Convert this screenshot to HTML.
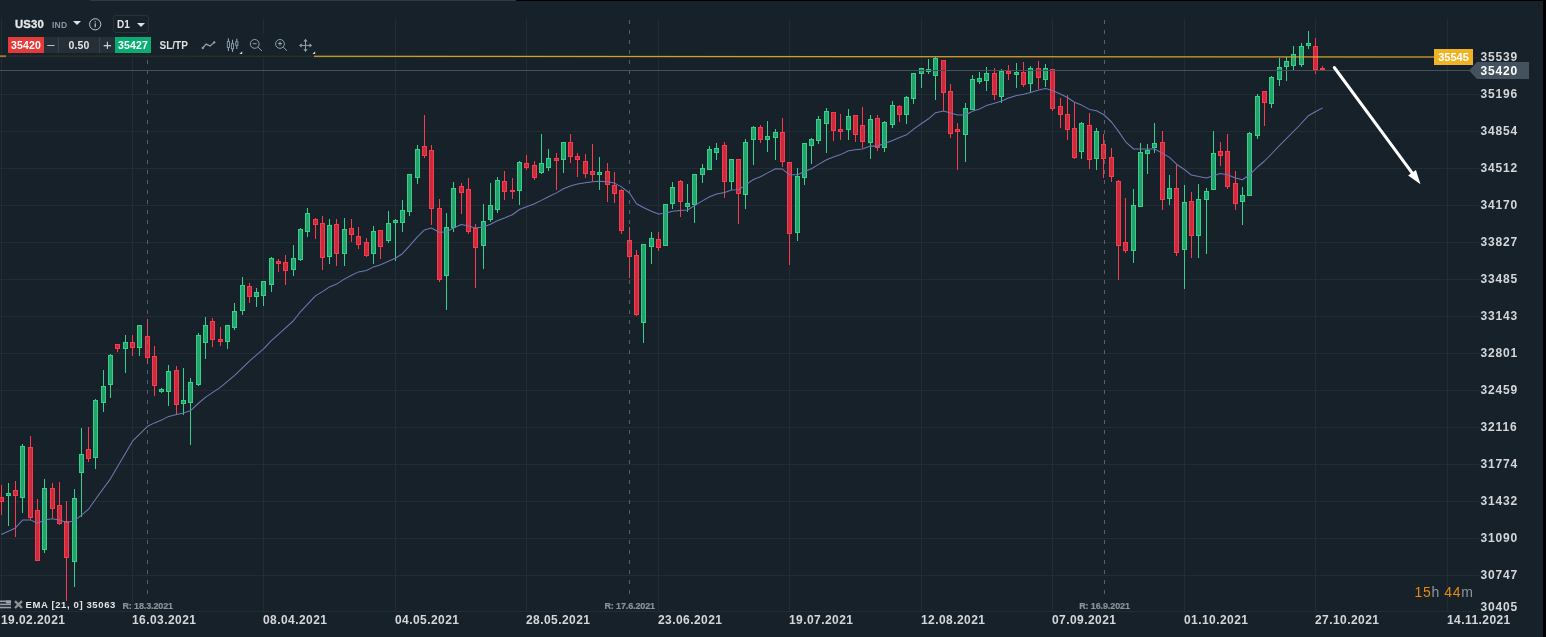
<!DOCTYPE html>
<html><head><meta charset="utf-8"><title>US30</title>
<style>
html,body{margin:0;padding:0;background:#17212a;}
body{width:1546px;height:637px;overflow:hidden;position:relative;font-family:"Liberation Sans",sans-serif;}
#chart{position:absolute;left:0;top:0;}
.pl{position:absolute;left:1480.5px;width:48px;height:14px;line-height:14px;font-size:12px;font-weight:bold;color:#d4d7da;letter-spacing:0.85px;}
.dl{position:absolute;top:613px;height:14px;line-height:14px;font-size:12px;font-weight:bold;color:#d4d7da;letter-spacing:0.43px;white-space:nowrap;}
.rl{position:absolute;top:601px;font-size:9px;line-height:11px;font-weight:bold;color:#8c9399;-webkit-text-stroke:0.2px #8c9399;white-space:nowrap;transform:translateX(-50%);letter-spacing:-0.12px;}
#topa{position:absolute;left:90px;top:0;width:426px;height:1px;background:#2e3b46;}
#topb{position:absolute;left:516px;top:0;width:1030px;height:1px;background:#000;}
#redge{position:absolute;left:1543px;top:0;width:3px;height:637px;background:#000;}
#ledge{position:absolute;left:1px;top:19px;width:1px;height:594px;background:#222c34;}
#ylab{position:absolute;left:1434px;top:49px;width:39px;height:15.5px;background:#f0b323;color:#fff;font-size:11px;font-weight:bold;line-height:16.5px;text-align:center;}
#plab{position:absolute;left:1469px;top:62px;width:60px;height:17px;}
#plab span{position:absolute;left:11.5px;top:1px;line-height:17px;font-size:12px;font-weight:bold;color:#fff;letter-spacing:0.85px;}
#timer{position:absolute;left:1414.5px;top:583.5px;font-size:14px;line-height:16px;color:#8d959c;letter-spacing:0.65px;white-space:nowrap;}
#timer b{font-weight:normal;color:#e58a0c;}
#tb{position:absolute;left:6px;top:34px;width:308px;height:24px;background:rgba(23,33,42,0.88);}
#tb1{position:absolute;left:6px;top:13px;width:146px;height:21px;background:rgba(23,33,42,0.88);}
#sym{position:absolute;left:14.5px;top:17px;font-size:11px;line-height:14px;font-weight:bold;color:#e6e8ea;letter-spacing:0.15px;-webkit-text-stroke:0.3px #e6e8ea;transform:scaleX(1.03);transform-origin:0 0;}
#ind{position:absolute;left:52px;top:19.6px;font-size:8.5px;line-height:10px;font-weight:bold;color:#8797a5;letter-spacing:0.2px;}
.tri{position:absolute;width:0;height:0;border-left:4px solid transparent;border-right:4px solid transparent;border-top:4.5px solid #dfe2e5;}
#d1{position:absolute;left:113px;top:15px;width:34px;height:16px;border:1px solid #27323b;border-radius:3px;}
#d1 span{position:absolute;left:3px;top:2.5px;font-size:10px;line-height:12px;font-weight:bold;color:#e6e8ea;}
.box{position:absolute;top:37px;height:16px;line-height:16px;text-align:center;font-weight:bold;font-size:10.5px;color:#fff;letter-spacing:0.2px;}
#ema{position:absolute;left:25.5px;top:599px;font-size:9.5px;line-height:12px;font-weight:bold;color:#e3e5e7;letter-spacing:0.62px;white-space:nowrap;}
#wrap{position:absolute;left:0;top:0;width:1546px;height:637px;will-change:transform;}
</style></head><body><div id="wrap">
<svg id="chart" width="1546" height="637" viewBox="0 0 1546 637">
<rect x="0" y="57" width="1479" height="1" fill="#222c34"/>
<rect x="0" y="94" width="1479" height="1" fill="#222c34"/>
<rect x="0" y="131" width="1479" height="1" fill="#222c34"/>
<rect x="0" y="168" width="1479" height="1" fill="#222c34"/>
<rect x="0" y="205" width="1479" height="1" fill="#222c34"/>
<rect x="0" y="242" width="1479" height="1" fill="#222c34"/>
<rect x="0" y="279" width="1479" height="1" fill="#222c34"/>
<rect x="0" y="316" width="1479" height="1" fill="#222c34"/>
<rect x="0" y="353" width="1479" height="1" fill="#222c34"/>
<rect x="0" y="390" width="1479" height="1" fill="#222c34"/>
<rect x="0" y="427" width="1479" height="1" fill="#222c34"/>
<rect x="0" y="464" width="1479" height="1" fill="#222c34"/>
<rect x="0" y="501" width="1479" height="1" fill="#222c34"/>
<rect x="0" y="538" width="1479" height="1" fill="#222c34"/>
<rect x="0" y="575" width="1479" height="1" fill="#222c34"/>
<rect x="0" y="611" width="1473" height="1" fill="#222c34"/>
<rect x="1" y="19" width="1" height="593" fill="#222c34"/>
<rect x="132" y="19" width="1" height="593" fill="#222c34"/>
<rect x="263" y="19" width="1" height="593" fill="#222c34"/>
<rect x="395" y="19" width="1" height="593" fill="#222c34"/>
<rect x="526" y="19" width="1" height="593" fill="#222c34"/>
<rect x="658" y="19" width="1" height="593" fill="#222c34"/>
<rect x="789" y="19" width="1" height="593" fill="#222c34"/>
<rect x="921" y="19" width="1" height="593" fill="#222c34"/>
<rect x="1052" y="19" width="1" height="593" fill="#222c34"/>
<rect x="1184" y="19" width="1" height="593" fill="#222c34"/>
<rect x="1315" y="19" width="1" height="593" fill="#222c34"/>
<rect x="1447" y="19" width="1" height="593" fill="#222c34"/>
<rect x="1.0" y="485" width="1" height="30" fill="#fb3a4d"/>
<rect x="-0.5" y="497.5" width="4" height="4" fill="#ca2b3d" stroke="#fb3a4d" stroke-width="1"/>
<rect x="8.0" y="483" width="1" height="43" fill="#2fd18b"/>
<rect x="6.5" y="493.5" width="4" height="2" fill="#25a26a" stroke="#2fd18b" stroke-width="1"/>
<rect x="15.0" y="481" width="1" height="56" fill="#fb3a4d"/>
<rect x="13.5" y="490.5" width="4" height="5" fill="#ca2b3d" stroke="#fb3a4d" stroke-width="1"/>
<rect x="22.0" y="444" width="1" height="69" fill="#2fd18b"/>
<rect x="20.5" y="446.5" width="4" height="51" fill="#25a26a" stroke="#2fd18b" stroke-width="1"/>
<rect x="30.0" y="436" width="1" height="84" fill="#fb3a4d"/>
<rect x="28.5" y="447.5" width="4" height="70" fill="#ca2b3d" stroke="#fb3a4d" stroke-width="1"/>
<rect x="37.0" y="499" width="1" height="62" fill="#fb3a4d"/>
<rect x="35.5" y="510.5" width="4" height="50" fill="#ca2b3d" stroke="#fb3a4d" stroke-width="1"/>
<rect x="44.0" y="479" width="1" height="74" fill="#2fd18b"/>
<rect x="42.5" y="488.5" width="4" height="61" fill="#25a26a" stroke="#2fd18b" stroke-width="1"/>
<rect x="52.0" y="483" width="1" height="35" fill="#fb3a4d"/>
<rect x="50.5" y="488.5" width="4" height="20" fill="#ca2b3d" stroke="#fb3a4d" stroke-width="1"/>
<rect x="59.0" y="482" width="1" height="43" fill="#fb3a4d"/>
<rect x="57.5" y="505.5" width="4" height="18" fill="#ca2b3d" stroke="#fb3a4d" stroke-width="1"/>
<rect x="66.0" y="501" width="1" height="100" fill="#fb3a4d"/>
<rect x="64.5" y="521.5" width="4" height="36" fill="#ca2b3d" stroke="#fb3a4d" stroke-width="1"/>
<rect x="74.0" y="489" width="1" height="98" fill="#2fd18b"/>
<rect x="72.5" y="498.5" width="4" height="63" fill="#25a26a" stroke="#2fd18b" stroke-width="1"/>
<rect x="81.0" y="428" width="1" height="89" fill="#2fd18b"/>
<rect x="79.5" y="454.5" width="4" height="18" fill="#25a26a" stroke="#2fd18b" stroke-width="1"/>
<rect x="88.0" y="427" width="1" height="35" fill="#fb3a4d"/>
<rect x="86.5" y="449.5" width="4" height="9" fill="#ca2b3d" stroke="#fb3a4d" stroke-width="1"/>
<rect x="95.0" y="399" width="1" height="70" fill="#2fd18b"/>
<rect x="93.5" y="400.5" width="4" height="57" fill="#25a26a" stroke="#2fd18b" stroke-width="1"/>
<rect x="103.0" y="370" width="1" height="42" fill="#2fd18b"/>
<rect x="101.5" y="386.5" width="4" height="16" fill="#25a26a" stroke="#2fd18b" stroke-width="1"/>
<rect x="110.0" y="354" width="1" height="44" fill="#2fd18b"/>
<rect x="108.5" y="355.5" width="4" height="29" fill="#25a26a" stroke="#2fd18b" stroke-width="1"/>
<rect x="117.0" y="344" width="1" height="8" fill="#fb3a4d"/>
<rect x="115.5" y="344.5" width="4" height="4" fill="#ca2b3d" stroke="#fb3a4d" stroke-width="1"/>
<rect x="125.0" y="335" width="1" height="38" fill="#2fd18b"/>
<rect x="123.5" y="342.5" width="4" height="6" fill="#25a26a" stroke="#2fd18b" stroke-width="1"/>
<rect x="132.0" y="335" width="1" height="21" fill="#fb3a4d"/>
<rect x="130.5" y="342.5" width="4" height="5" fill="#ca2b3d" stroke="#fb3a4d" stroke-width="1"/>
<rect x="139.0" y="325" width="1" height="31" fill="#2fd18b"/>
<rect x="137.5" y="325.5" width="4" height="22" fill="#25a26a" stroke="#2fd18b" stroke-width="1"/>
<rect x="147.0" y="319" width="1" height="45" fill="#fb3a4d"/>
<rect x="145.5" y="336.5" width="4" height="21" fill="#ca2b3d" stroke="#fb3a4d" stroke-width="1"/>
<rect x="154.0" y="346" width="1" height="50" fill="#fb3a4d"/>
<rect x="152.5" y="356.5" width="4" height="29" fill="#ca2b3d" stroke="#fb3a4d" stroke-width="1"/>
<rect x="161.0" y="388" width="1" height="5" fill="#2fd18b"/>
<rect x="159.5" y="389.5" width="4" height="2" fill="#25a26a" stroke="#2fd18b" stroke-width="1"/>
<rect x="168.0" y="365" width="1" height="41" fill="#2fd18b"/>
<rect x="166.5" y="371.5" width="4" height="20" fill="#25a26a" stroke="#2fd18b" stroke-width="1"/>
<rect x="176.0" y="366" width="1" height="48" fill="#fb3a4d"/>
<rect x="174.5" y="370.5" width="4" height="34" fill="#ca2b3d" stroke="#fb3a4d" stroke-width="1"/>
<rect x="183.0" y="368" width="1" height="47" fill="#2fd18b"/>
<rect x="181.5" y="400.5" width="4" height="3" fill="#25a26a" stroke="#2fd18b" stroke-width="1"/>
<rect x="190.0" y="378" width="1" height="67" fill="#2fd18b"/>
<rect x="188.5" y="382.5" width="4" height="20" fill="#25a26a" stroke="#2fd18b" stroke-width="1"/>
<rect x="198.0" y="333" width="1" height="53" fill="#2fd18b"/>
<rect x="196.5" y="335.5" width="4" height="49" fill="#25a26a" stroke="#2fd18b" stroke-width="1"/>
<rect x="205.0" y="317" width="1" height="42" fill="#2fd18b"/>
<rect x="203.5" y="325.5" width="4" height="17" fill="#25a26a" stroke="#2fd18b" stroke-width="1"/>
<rect x="212.0" y="318" width="1" height="29" fill="#fb3a4d"/>
<rect x="210.5" y="321.5" width="4" height="18" fill="#ca2b3d" stroke="#fb3a4d" stroke-width="1"/>
<rect x="220.0" y="327" width="1" height="19" fill="#fb3a4d"/>
<rect x="218.5" y="339.5" width="4" height="2" fill="#ca2b3d" stroke="#fb3a4d" stroke-width="1"/>
<rect x="227.0" y="325" width="1" height="24" fill="#2fd18b"/>
<rect x="225.5" y="325.5" width="4" height="16" fill="#25a26a" stroke="#2fd18b" stroke-width="1"/>
<rect x="234.0" y="303" width="1" height="27" fill="#2fd18b"/>
<rect x="232.5" y="311.5" width="4" height="16" fill="#25a26a" stroke="#2fd18b" stroke-width="1"/>
<rect x="242.0" y="277" width="1" height="38" fill="#2fd18b"/>
<rect x="240.5" y="285.5" width="4" height="25" fill="#25a26a" stroke="#2fd18b" stroke-width="1"/>
<rect x="249.0" y="283" width="1" height="20" fill="#fb3a4d"/>
<rect x="247.5" y="286.5" width="4" height="10" fill="#ca2b3d" stroke="#fb3a4d" stroke-width="1"/>
<rect x="256.0" y="288" width="1" height="19" fill="#2fd18b"/>
<rect x="254.5" y="292.5" width="4" height="4" fill="#25a26a" stroke="#2fd18b" stroke-width="1"/>
<rect x="263.0" y="281" width="1" height="25" fill="#2fd18b"/>
<rect x="261.5" y="281.5" width="4" height="14" fill="#25a26a" stroke="#2fd18b" stroke-width="1"/>
<rect x="271.0" y="257" width="1" height="35" fill="#2fd18b"/>
<rect x="269.5" y="258.5" width="4" height="26" fill="#25a26a" stroke="#2fd18b" stroke-width="1"/>
<rect x="278.0" y="259" width="1" height="13" fill="#fb3a4d"/>
<rect x="276.5" y="261.5" width="4" height="2" fill="#ca2b3d" stroke="#fb3a4d" stroke-width="1"/>
<rect x="285.0" y="255" width="1" height="30" fill="#fb3a4d"/>
<rect x="283.5" y="262.5" width="4" height="8" fill="#ca2b3d" stroke="#fb3a4d" stroke-width="1"/>
<rect x="293.0" y="245" width="1" height="31" fill="#2fd18b"/>
<rect x="291.5" y="258.5" width="4" height="11" fill="#25a26a" stroke="#2fd18b" stroke-width="1"/>
<rect x="300.0" y="228" width="1" height="33" fill="#2fd18b"/>
<rect x="298.5" y="229.5" width="4" height="30" fill="#25a26a" stroke="#2fd18b" stroke-width="1"/>
<rect x="307.0" y="208" width="1" height="29" fill="#2fd18b"/>
<rect x="305.5" y="213.5" width="4" height="18" fill="#25a26a" stroke="#2fd18b" stroke-width="1"/>
<rect x="315.0" y="218" width="1" height="21" fill="#fb3a4d"/>
<rect x="313.5" y="219.5" width="4" height="5" fill="#ca2b3d" stroke="#fb3a4d" stroke-width="1"/>
<rect x="322.0" y="216" width="1" height="54" fill="#fb3a4d"/>
<rect x="320.5" y="223.5" width="4" height="34" fill="#ca2b3d" stroke="#fb3a4d" stroke-width="1"/>
<rect x="329.0" y="219" width="1" height="45" fill="#2fd18b"/>
<rect x="327.5" y="225.5" width="4" height="31" fill="#25a26a" stroke="#2fd18b" stroke-width="1"/>
<rect x="336.0" y="219" width="1" height="47" fill="#fb3a4d"/>
<rect x="334.5" y="224.5" width="4" height="29" fill="#ca2b3d" stroke="#fb3a4d" stroke-width="1"/>
<rect x="344.0" y="218" width="1" height="48" fill="#2fd18b"/>
<rect x="342.5" y="229.5" width="4" height="24" fill="#25a26a" stroke="#2fd18b" stroke-width="1"/>
<rect x="351.0" y="219" width="1" height="23" fill="#fb3a4d"/>
<rect x="349.5" y="228.5" width="4" height="6" fill="#ca2b3d" stroke="#fb3a4d" stroke-width="1"/>
<rect x="358.0" y="227" width="1" height="22" fill="#fb3a4d"/>
<rect x="356.5" y="236.5" width="4" height="8" fill="#ca2b3d" stroke="#fb3a4d" stroke-width="1"/>
<rect x="366.0" y="238" width="1" height="19" fill="#fb3a4d"/>
<rect x="364.5" y="242.5" width="4" height="13" fill="#ca2b3d" stroke="#fb3a4d" stroke-width="1"/>
<rect x="373.0" y="226" width="1" height="38" fill="#2fd18b"/>
<rect x="371.5" y="231.5" width="4" height="22" fill="#25a26a" stroke="#2fd18b" stroke-width="1"/>
<rect x="380.0" y="230" width="1" height="29" fill="#fb3a4d"/>
<rect x="378.5" y="230.5" width="4" height="16" fill="#ca2b3d" stroke="#fb3a4d" stroke-width="1"/>
<rect x="388.0" y="211" width="1" height="32" fill="#2fd18b"/>
<rect x="386.5" y="223.5" width="4" height="17" fill="#25a26a" stroke="#2fd18b" stroke-width="1"/>
<rect x="395.0" y="219" width="1" height="42" fill="#2fd18b"/>
<rect x="393.5" y="220.5" width="4" height="2" fill="#25a26a" stroke="#2fd18b" stroke-width="1"/>
<rect x="402.0" y="200" width="1" height="32" fill="#2fd18b"/>
<rect x="400.5" y="210.5" width="4" height="12" fill="#25a26a" stroke="#2fd18b" stroke-width="1"/>
<rect x="409.0" y="174" width="1" height="42" fill="#2fd18b"/>
<rect x="407.5" y="174.5" width="4" height="37" fill="#25a26a" stroke="#2fd18b" stroke-width="1"/>
<rect x="417.0" y="145" width="1" height="39" fill="#2fd18b"/>
<rect x="415.5" y="149.5" width="4" height="28" fill="#25a26a" stroke="#2fd18b" stroke-width="1"/>
<rect x="424.0" y="115" width="1" height="43" fill="#fb3a4d"/>
<rect x="422.5" y="146.5" width="4" height="9" fill="#ca2b3d" stroke="#fb3a4d" stroke-width="1"/>
<rect x="431.0" y="145" width="1" height="80" fill="#fb3a4d"/>
<rect x="429.5" y="150.5" width="4" height="58" fill="#ca2b3d" stroke="#fb3a4d" stroke-width="1"/>
<rect x="439.0" y="199" width="1" height="83" fill="#fb3a4d"/>
<rect x="437.5" y="208.5" width="4" height="71" fill="#ca2b3d" stroke="#fb3a4d" stroke-width="1"/>
<rect x="446.0" y="213" width="1" height="97" fill="#2fd18b"/>
<rect x="444.5" y="227.5" width="4" height="48" fill="#25a26a" stroke="#2fd18b" stroke-width="1"/>
<rect x="453.0" y="182" width="1" height="50" fill="#2fd18b"/>
<rect x="451.5" y="188.5" width="4" height="39" fill="#25a26a" stroke="#2fd18b" stroke-width="1"/>
<rect x="461.0" y="183" width="1" height="31" fill="#fb3a4d"/>
<rect x="459.5" y="186.5" width="4" height="6" fill="#ca2b3d" stroke="#fb3a4d" stroke-width="1"/>
<rect x="468.0" y="178" width="1" height="56" fill="#fb3a4d"/>
<rect x="466.5" y="189.5" width="4" height="42" fill="#ca2b3d" stroke="#fb3a4d" stroke-width="1"/>
<rect x="475.0" y="224" width="1" height="64" fill="#fb3a4d"/>
<rect x="473.5" y="228.5" width="4" height="19" fill="#ca2b3d" stroke="#fb3a4d" stroke-width="1"/>
<rect x="483.0" y="204" width="1" height="65" fill="#2fd18b"/>
<rect x="481.5" y="221.5" width="4" height="24" fill="#25a26a" stroke="#2fd18b" stroke-width="1"/>
<rect x="490.0" y="183" width="1" height="39" fill="#2fd18b"/>
<rect x="488.5" y="205.5" width="4" height="14" fill="#25a26a" stroke="#2fd18b" stroke-width="1"/>
<rect x="497.0" y="177" width="1" height="36" fill="#2fd18b"/>
<rect x="495.5" y="180.5" width="4" height="29" fill="#25a26a" stroke="#2fd18b" stroke-width="1"/>
<rect x="504.0" y="171" width="1" height="29" fill="#fb3a4d"/>
<rect x="502.5" y="181.5" width="4" height="10" fill="#ca2b3d" stroke="#fb3a4d" stroke-width="1"/>
<rect x="512.0" y="178" width="1" height="21" fill="#fb3a4d"/>
<rect x="510.5" y="190.5" width="4" height="1" fill="#ca2b3d" stroke="#fb3a4d" stroke-width="1"/>
<rect x="519.0" y="161" width="1" height="44" fill="#2fd18b"/>
<rect x="517.5" y="162.5" width="4" height="28" fill="#25a26a" stroke="#2fd18b" stroke-width="1"/>
<rect x="526.0" y="155" width="1" height="15" fill="#fb3a4d"/>
<rect x="524.5" y="163.5" width="4" height="4" fill="#ca2b3d" stroke="#fb3a4d" stroke-width="1"/>
<rect x="534.0" y="161" width="1" height="19" fill="#fb3a4d"/>
<rect x="532.5" y="165.5" width="4" height="12" fill="#ca2b3d" stroke="#fb3a4d" stroke-width="1"/>
<rect x="541.0" y="134" width="1" height="40" fill="#2fd18b"/>
<rect x="539.5" y="163.5" width="4" height="9" fill="#25a26a" stroke="#2fd18b" stroke-width="1"/>
<rect x="548.0" y="149" width="1" height="22" fill="#2fd18b"/>
<rect x="546.5" y="158.5" width="4" height="9" fill="#25a26a" stroke="#2fd18b" stroke-width="1"/>
<rect x="556.0" y="153" width="1" height="37" fill="#fb3a4d"/>
<rect x="554.5" y="158.5" width="4" height="2" fill="#ca2b3d" stroke="#fb3a4d" stroke-width="1"/>
<rect x="563.0" y="142" width="1" height="31" fill="#2fd18b"/>
<rect x="561.5" y="142.5" width="4" height="17" fill="#25a26a" stroke="#2fd18b" stroke-width="1"/>
<rect x="570.0" y="134" width="1" height="29" fill="#fb3a4d"/>
<rect x="568.5" y="142.5" width="4" height="14" fill="#ca2b3d" stroke="#fb3a4d" stroke-width="1"/>
<rect x="577.0" y="153" width="1" height="24" fill="#fb3a4d"/>
<rect x="575.5" y="156.5" width="4" height="3" fill="#ca2b3d" stroke="#fb3a4d" stroke-width="1"/>
<rect x="585.0" y="154" width="1" height="24" fill="#fb3a4d"/>
<rect x="583.5" y="161.5" width="4" height="12" fill="#ca2b3d" stroke="#fb3a4d" stroke-width="1"/>
<rect x="592.0" y="144" width="1" height="37" fill="#fb3a4d"/>
<rect x="590.5" y="171.5" width="4" height="3" fill="#ca2b3d" stroke="#fb3a4d" stroke-width="1"/>
<rect x="599.0" y="157" width="1" height="33" fill="#2fd18b"/>
<rect x="597.5" y="172.5" width="4" height="2" fill="#25a26a" stroke="#2fd18b" stroke-width="1"/>
<rect x="607.0" y="163" width="1" height="39" fill="#fb3a4d"/>
<rect x="605.5" y="171.5" width="4" height="13" fill="#ca2b3d" stroke="#fb3a4d" stroke-width="1"/>
<rect x="614.0" y="172" width="1" height="31" fill="#fb3a4d"/>
<rect x="612.5" y="185.5" width="4" height="8" fill="#ca2b3d" stroke="#fb3a4d" stroke-width="1"/>
<rect x="621.0" y="189" width="1" height="45" fill="#fb3a4d"/>
<rect x="619.5" y="190.5" width="4" height="40" fill="#ca2b3d" stroke="#fb3a4d" stroke-width="1"/>
<rect x="629.0" y="227" width="1" height="51" fill="#fb3a4d"/>
<rect x="627.5" y="240.5" width="4" height="16" fill="#ca2b3d" stroke="#fb3a4d" stroke-width="1"/>
<rect x="636.0" y="250" width="1" height="66" fill="#fb3a4d"/>
<rect x="634.5" y="255.5" width="4" height="59" fill="#ca2b3d" stroke="#fb3a4d" stroke-width="1"/>
<rect x="643.0" y="244" width="1" height="99" fill="#2fd18b"/>
<rect x="641.5" y="244.5" width="4" height="78" fill="#25a26a" stroke="#2fd18b" stroke-width="1"/>
<rect x="651.0" y="232" width="1" height="32" fill="#2fd18b"/>
<rect x="649.5" y="238.5" width="4" height="8" fill="#25a26a" stroke="#2fd18b" stroke-width="1"/>
<rect x="658.0" y="232" width="1" height="19" fill="#fb3a4d"/>
<rect x="656.5" y="239.5" width="4" height="8" fill="#ca2b3d" stroke="#fb3a4d" stroke-width="1"/>
<rect x="665.0" y="204" width="1" height="42" fill="#2fd18b"/>
<rect x="663.5" y="204.5" width="4" height="41" fill="#25a26a" stroke="#2fd18b" stroke-width="1"/>
<rect x="672.0" y="182" width="1" height="27" fill="#2fd18b"/>
<rect x="670.5" y="187.5" width="4" height="16" fill="#25a26a" stroke="#2fd18b" stroke-width="1"/>
<rect x="680.0" y="180" width="1" height="37" fill="#fb3a4d"/>
<rect x="678.5" y="181.5" width="4" height="20" fill="#ca2b3d" stroke="#fb3a4d" stroke-width="1"/>
<rect x="687.0" y="184" width="1" height="28" fill="#2fd18b"/>
<rect x="685.5" y="203.5" width="4" height="3" fill="#25a26a" stroke="#2fd18b" stroke-width="1"/>
<rect x="694.0" y="174" width="1" height="49" fill="#2fd18b"/>
<rect x="692.5" y="174.5" width="4" height="30" fill="#25a26a" stroke="#2fd18b" stroke-width="1"/>
<rect x="702.0" y="164" width="1" height="19" fill="#2fd18b"/>
<rect x="700.5" y="168.5" width="4" height="6" fill="#25a26a" stroke="#2fd18b" stroke-width="1"/>
<rect x="709.0" y="146" width="1" height="24" fill="#2fd18b"/>
<rect x="707.5" y="149.5" width="4" height="20" fill="#25a26a" stroke="#2fd18b" stroke-width="1"/>
<rect x="716.0" y="143" width="1" height="17" fill="#2fd18b"/>
<rect x="714.5" y="148.5" width="4" height="4" fill="#25a26a" stroke="#2fd18b" stroke-width="1"/>
<rect x="724.0" y="142" width="1" height="56" fill="#fb3a4d"/>
<rect x="722.5" y="145.5" width="4" height="36" fill="#ca2b3d" stroke="#fb3a4d" stroke-width="1"/>
<rect x="731.0" y="159" width="1" height="31" fill="#2fd18b"/>
<rect x="729.5" y="159.5" width="4" height="22" fill="#25a26a" stroke="#2fd18b" stroke-width="1"/>
<rect x="738.0" y="159" width="1" height="65" fill="#fb3a4d"/>
<rect x="736.5" y="159.5" width="4" height="34" fill="#ca2b3d" stroke="#fb3a4d" stroke-width="1"/>
<rect x="745.0" y="139" width="1" height="70" fill="#2fd18b"/>
<rect x="743.5" y="142.5" width="4" height="52" fill="#25a26a" stroke="#2fd18b" stroke-width="1"/>
<rect x="753.0" y="126" width="1" height="39" fill="#2fd18b"/>
<rect x="751.5" y="127.5" width="4" height="12" fill="#25a26a" stroke="#2fd18b" stroke-width="1"/>
<rect x="760.0" y="125" width="1" height="18" fill="#fb3a4d"/>
<rect x="758.5" y="127.5" width="4" height="12" fill="#ca2b3d" stroke="#fb3a4d" stroke-width="1"/>
<rect x="767.0" y="121" width="1" height="31" fill="#2fd18b"/>
<rect x="765.5" y="136.5" width="4" height="3" fill="#25a26a" stroke="#2fd18b" stroke-width="1"/>
<rect x="775.0" y="129" width="1" height="31" fill="#2fd18b"/>
<rect x="773.5" y="132.5" width="4" height="5" fill="#25a26a" stroke="#2fd18b" stroke-width="1"/>
<rect x="782.0" y="118" width="1" height="49" fill="#fb3a4d"/>
<rect x="780.5" y="132.5" width="4" height="29" fill="#ca2b3d" stroke="#fb3a4d" stroke-width="1"/>
<rect x="789.0" y="162" width="1" height="103" fill="#fb3a4d"/>
<rect x="787.5" y="162.5" width="4" height="71" fill="#ca2b3d" stroke="#fb3a4d" stroke-width="1"/>
<rect x="797.0" y="168" width="1" height="73" fill="#2fd18b"/>
<rect x="795.5" y="176.5" width="4" height="56" fill="#25a26a" stroke="#2fd18b" stroke-width="1"/>
<rect x="804.0" y="143" width="1" height="42" fill="#2fd18b"/>
<rect x="802.5" y="143.5" width="4" height="34" fill="#25a26a" stroke="#2fd18b" stroke-width="1"/>
<rect x="811.0" y="138" width="1" height="26" fill="#2fd18b"/>
<rect x="809.5" y="139.5" width="4" height="6" fill="#25a26a" stroke="#2fd18b" stroke-width="1"/>
<rect x="818.0" y="116" width="1" height="28" fill="#2fd18b"/>
<rect x="816.5" y="119.5" width="4" height="21" fill="#25a26a" stroke="#2fd18b" stroke-width="1"/>
<rect x="826.0" y="108" width="1" height="45" fill="#2fd18b"/>
<rect x="824.5" y="111.5" width="4" height="12" fill="#25a26a" stroke="#2fd18b" stroke-width="1"/>
<rect x="833.0" y="112" width="1" height="29" fill="#fb3a4d"/>
<rect x="831.5" y="112.5" width="4" height="18" fill="#ca2b3d" stroke="#fb3a4d" stroke-width="1"/>
<rect x="840.0" y="114" width="1" height="26" fill="#fb3a4d"/>
<rect x="838.5" y="129.5" width="4" height="2" fill="#ca2b3d" stroke="#fb3a4d" stroke-width="1"/>
<rect x="848.0" y="109" width="1" height="31" fill="#2fd18b"/>
<rect x="846.5" y="116.5" width="4" height="13" fill="#25a26a" stroke="#2fd18b" stroke-width="1"/>
<rect x="855.0" y="115" width="1" height="27" fill="#fb3a4d"/>
<rect x="853.5" y="115.5" width="4" height="19" fill="#ca2b3d" stroke="#fb3a4d" stroke-width="1"/>
<rect x="862.0" y="107" width="1" height="41" fill="#fb3a4d"/>
<rect x="860.5" y="125.5" width="4" height="16" fill="#ca2b3d" stroke="#fb3a4d" stroke-width="1"/>
<rect x="870.0" y="115" width="1" height="44" fill="#2fd18b"/>
<rect x="868.5" y="119.5" width="4" height="23" fill="#25a26a" stroke="#2fd18b" stroke-width="1"/>
<rect x="877.0" y="115" width="1" height="36" fill="#fb3a4d"/>
<rect x="875.5" y="118.5" width="4" height="29" fill="#ca2b3d" stroke="#fb3a4d" stroke-width="1"/>
<rect x="884.0" y="121" width="1" height="31" fill="#2fd18b"/>
<rect x="882.5" y="122.5" width="4" height="25" fill="#25a26a" stroke="#2fd18b" stroke-width="1"/>
<rect x="892.0" y="101" width="1" height="27" fill="#2fd18b"/>
<rect x="890.5" y="105.5" width="4" height="19" fill="#25a26a" stroke="#2fd18b" stroke-width="1"/>
<rect x="899.0" y="105" width="1" height="17" fill="#fb3a4d"/>
<rect x="897.5" y="106.5" width="4" height="8" fill="#ca2b3d" stroke="#fb3a4d" stroke-width="1"/>
<rect x="906.0" y="96" width="1" height="28" fill="#2fd18b"/>
<rect x="904.5" y="97.5" width="4" height="17" fill="#25a26a" stroke="#2fd18b" stroke-width="1"/>
<rect x="913.0" y="73" width="1" height="31" fill="#2fd18b"/>
<rect x="911.5" y="73.5" width="4" height="25" fill="#25a26a" stroke="#2fd18b" stroke-width="1"/>
<rect x="921.0" y="68" width="1" height="20" fill="#2fd18b"/>
<rect x="919.5" y="68.5" width="4" height="5" fill="#25a26a" stroke="#2fd18b" stroke-width="1"/>
<rect x="928.0" y="59" width="1" height="15" fill="#2fd18b"/>
<rect x="926.5" y="69.5" width="4" height="2" fill="#25a26a" stroke="#2fd18b" stroke-width="1"/>
<rect x="935.0" y="57" width="1" height="43" fill="#2fd18b"/>
<rect x="933.5" y="58.5" width="4" height="17" fill="#25a26a" stroke="#2fd18b" stroke-width="1"/>
<rect x="943.0" y="60" width="1" height="51" fill="#fb3a4d"/>
<rect x="941.5" y="60.5" width="4" height="32" fill="#ca2b3d" stroke="#fb3a4d" stroke-width="1"/>
<rect x="950.0" y="84" width="1" height="54" fill="#fb3a4d"/>
<rect x="948.5" y="91.5" width="4" height="42" fill="#ca2b3d" stroke="#fb3a4d" stroke-width="1"/>
<rect x="957.0" y="123" width="1" height="47" fill="#fb3a4d"/>
<rect x="955.5" y="129.5" width="4" height="2" fill="#ca2b3d" stroke="#fb3a4d" stroke-width="1"/>
<rect x="965.0" y="103" width="1" height="59" fill="#2fd18b"/>
<rect x="963.5" y="108.5" width="4" height="26" fill="#25a26a" stroke="#2fd18b" stroke-width="1"/>
<rect x="972.0" y="75" width="1" height="35" fill="#2fd18b"/>
<rect x="970.5" y="79.5" width="4" height="30" fill="#25a26a" stroke="#2fd18b" stroke-width="1"/>
<rect x="979.0" y="72" width="1" height="12" fill="#2fd18b"/>
<rect x="977.5" y="78.5" width="4" height="3" fill="#25a26a" stroke="#2fd18b" stroke-width="1"/>
<rect x="986.0" y="67" width="1" height="24" fill="#2fd18b"/>
<rect x="984.5" y="73.5" width="4" height="7" fill="#25a26a" stroke="#2fd18b" stroke-width="1"/>
<rect x="994.0" y="68" width="1" height="32" fill="#fb3a4d"/>
<rect x="992.5" y="73.5" width="4" height="21" fill="#ca2b3d" stroke="#fb3a4d" stroke-width="1"/>
<rect x="1001.0" y="69" width="1" height="34" fill="#2fd18b"/>
<rect x="999.5" y="71.5" width="4" height="25" fill="#25a26a" stroke="#2fd18b" stroke-width="1"/>
<rect x="1008.0" y="65" width="1" height="15" fill="#fb3a4d"/>
<rect x="1006.5" y="71.5" width="4" height="2" fill="#ca2b3d" stroke="#fb3a4d" stroke-width="1"/>
<rect x="1016.0" y="63" width="1" height="25" fill="#2fd18b"/>
<rect x="1014.5" y="72.5" width="4" height="2" fill="#25a26a" stroke="#2fd18b" stroke-width="1"/>
<rect x="1023.0" y="62" width="1" height="25" fill="#fb3a4d"/>
<rect x="1021.5" y="72.5" width="4" height="12" fill="#ca2b3d" stroke="#fb3a4d" stroke-width="1"/>
<rect x="1030.0" y="66" width="1" height="26" fill="#2fd18b"/>
<rect x="1028.5" y="68.5" width="4" height="15" fill="#25a26a" stroke="#2fd18b" stroke-width="1"/>
<rect x="1038.0" y="61" width="1" height="28" fill="#fb3a4d"/>
<rect x="1036.5" y="68.5" width="4" height="9" fill="#ca2b3d" stroke="#fb3a4d" stroke-width="1"/>
<rect x="1045.0" y="64" width="1" height="23" fill="#2fd18b"/>
<rect x="1043.5" y="68.5" width="4" height="11" fill="#25a26a" stroke="#2fd18b" stroke-width="1"/>
<rect x="1052.0" y="69" width="1" height="42" fill="#fb3a4d"/>
<rect x="1050.5" y="69.5" width="4" height="39" fill="#ca2b3d" stroke="#fb3a4d" stroke-width="1"/>
<rect x="1060.0" y="98" width="1" height="30" fill="#fb3a4d"/>
<rect x="1058.5" y="106.5" width="4" height="8" fill="#ca2b3d" stroke="#fb3a4d" stroke-width="1"/>
<rect x="1067.0" y="95" width="1" height="45" fill="#fb3a4d"/>
<rect x="1065.5" y="114.5" width="4" height="15" fill="#ca2b3d" stroke="#fb3a4d" stroke-width="1"/>
<rect x="1074.0" y="103" width="1" height="56" fill="#fb3a4d"/>
<rect x="1072.5" y="128.5" width="4" height="29" fill="#ca2b3d" stroke="#fb3a4d" stroke-width="1"/>
<rect x="1081.0" y="122" width="1" height="37" fill="#2fd18b"/>
<rect x="1079.5" y="123.5" width="4" height="28" fill="#25a26a" stroke="#2fd18b" stroke-width="1"/>
<rect x="1089.0" y="113" width="1" height="56" fill="#fb3a4d"/>
<rect x="1087.5" y="125.5" width="4" height="34" fill="#ca2b3d" stroke="#fb3a4d" stroke-width="1"/>
<rect x="1096.0" y="128" width="1" height="42" fill="#2fd18b"/>
<rect x="1094.5" y="131.5" width="4" height="27" fill="#25a26a" stroke="#2fd18b" stroke-width="1"/>
<rect x="1103.0" y="134" width="1" height="44" fill="#fb3a4d"/>
<rect x="1101.5" y="144.5" width="4" height="14" fill="#ca2b3d" stroke="#fb3a4d" stroke-width="1"/>
<rect x="1111.0" y="148" width="1" height="34" fill="#fb3a4d"/>
<rect x="1109.5" y="157.5" width="4" height="19" fill="#ca2b3d" stroke="#fb3a4d" stroke-width="1"/>
<rect x="1118.0" y="180" width="1" height="100" fill="#fb3a4d"/>
<rect x="1116.5" y="181.5" width="4" height="64" fill="#ca2b3d" stroke="#fb3a4d" stroke-width="1"/>
<rect x="1125.0" y="198" width="1" height="55" fill="#fb3a4d"/>
<rect x="1123.5" y="242.5" width="4" height="8" fill="#ca2b3d" stroke="#fb3a4d" stroke-width="1"/>
<rect x="1133.0" y="189" width="1" height="74" fill="#2fd18b"/>
<rect x="1131.5" y="205.5" width="4" height="45" fill="#25a26a" stroke="#2fd18b" stroke-width="1"/>
<rect x="1140.0" y="143" width="1" height="64" fill="#2fd18b"/>
<rect x="1138.5" y="152.5" width="4" height="54" fill="#25a26a" stroke="#2fd18b" stroke-width="1"/>
<rect x="1147.0" y="144" width="1" height="30" fill="#2fd18b"/>
<rect x="1145.5" y="150.5" width="4" height="3" fill="#25a26a" stroke="#2fd18b" stroke-width="1"/>
<rect x="1154.0" y="123" width="1" height="30" fill="#2fd18b"/>
<rect x="1152.5" y="143.5" width="4" height="4" fill="#25a26a" stroke="#2fd18b" stroke-width="1"/>
<rect x="1162.0" y="131" width="1" height="79" fill="#fb3a4d"/>
<rect x="1160.5" y="142.5" width="4" height="57" fill="#ca2b3d" stroke="#fb3a4d" stroke-width="1"/>
<rect x="1169.0" y="175" width="1" height="30" fill="#2fd18b"/>
<rect x="1167.5" y="188.5" width="4" height="10" fill="#25a26a" stroke="#2fd18b" stroke-width="1"/>
<rect x="1176.0" y="165" width="1" height="91" fill="#fb3a4d"/>
<rect x="1174.5" y="188.5" width="4" height="64" fill="#ca2b3d" stroke="#fb3a4d" stroke-width="1"/>
<rect x="1184.0" y="185" width="1" height="104" fill="#2fd18b"/>
<rect x="1182.5" y="202.5" width="4" height="47" fill="#25a26a" stroke="#2fd18b" stroke-width="1"/>
<rect x="1191.0" y="192" width="1" height="66" fill="#fb3a4d"/>
<rect x="1189.5" y="201.5" width="4" height="34" fill="#ca2b3d" stroke="#fb3a4d" stroke-width="1"/>
<rect x="1198.0" y="184" width="1" height="74" fill="#2fd18b"/>
<rect x="1196.5" y="199.5" width="4" height="36" fill="#25a26a" stroke="#2fd18b" stroke-width="1"/>
<rect x="1206.0" y="188" width="1" height="66" fill="#2fd18b"/>
<rect x="1204.5" y="191.5" width="4" height="8" fill="#25a26a" stroke="#2fd18b" stroke-width="1"/>
<rect x="1213.0" y="131" width="1" height="59" fill="#2fd18b"/>
<rect x="1211.5" y="153.5" width="4" height="36" fill="#25a26a" stroke="#2fd18b" stroke-width="1"/>
<rect x="1220.0" y="142" width="1" height="24" fill="#fb3a4d"/>
<rect x="1218.5" y="151.5" width="4" height="4" fill="#ca2b3d" stroke="#fb3a4d" stroke-width="1"/>
<rect x="1227.0" y="134" width="1" height="55" fill="#fb3a4d"/>
<rect x="1225.5" y="151.5" width="4" height="35" fill="#ca2b3d" stroke="#fb3a4d" stroke-width="1"/>
<rect x="1235.0" y="171" width="1" height="39" fill="#fb3a4d"/>
<rect x="1233.5" y="183.5" width="4" height="20" fill="#ca2b3d" stroke="#fb3a4d" stroke-width="1"/>
<rect x="1242.0" y="187" width="1" height="38" fill="#2fd18b"/>
<rect x="1240.5" y="195.5" width="4" height="6" fill="#25a26a" stroke="#2fd18b" stroke-width="1"/>
<rect x="1249.0" y="132" width="1" height="64" fill="#2fd18b"/>
<rect x="1247.5" y="133.5" width="4" height="62" fill="#25a26a" stroke="#2fd18b" stroke-width="1"/>
<rect x="1257.0" y="94" width="1" height="45" fill="#2fd18b"/>
<rect x="1255.5" y="96.5" width="4" height="39" fill="#25a26a" stroke="#2fd18b" stroke-width="1"/>
<rect x="1264.0" y="91" width="1" height="35" fill="#fb3a4d"/>
<rect x="1262.5" y="91.5" width="4" height="11" fill="#ca2b3d" stroke="#fb3a4d" stroke-width="1"/>
<rect x="1271.0" y="76" width="1" height="32" fill="#2fd18b"/>
<rect x="1269.5" y="77.5" width="4" height="26" fill="#25a26a" stroke="#2fd18b" stroke-width="1"/>
<rect x="1279.0" y="58" width="1" height="28" fill="#2fd18b"/>
<rect x="1277.5" y="67.5" width="4" height="12" fill="#25a26a" stroke="#2fd18b" stroke-width="1"/>
<rect x="1286.0" y="57" width="1" height="24" fill="#2fd18b"/>
<rect x="1284.5" y="61.5" width="4" height="5" fill="#25a26a" stroke="#2fd18b" stroke-width="1"/>
<rect x="1293.0" y="46" width="1" height="24" fill="#2fd18b"/>
<rect x="1291.5" y="54.5" width="4" height="11" fill="#25a26a" stroke="#2fd18b" stroke-width="1"/>
<rect x="1301.0" y="43" width="1" height="24" fill="#2fd18b"/>
<rect x="1299.5" y="46.5" width="4" height="18" fill="#25a26a" stroke="#2fd18b" stroke-width="1"/>
<rect x="1308.0" y="31" width="1" height="18" fill="#2fd18b"/>
<rect x="1306.5" y="43.5" width="4" height="2" fill="#25a26a" stroke="#2fd18b" stroke-width="1"/>
<rect x="1315.0" y="38" width="1" height="36" fill="#fb3a4d"/>
<rect x="1313.5" y="46.5" width="4" height="23" fill="#ca2b3d" stroke="#fb3a4d" stroke-width="1"/>
<rect x="1322.0" y="66" width="1" height="4" fill="#fb3a4d"/>
<rect x="1320.5" y="68.5" width="4" height="1" fill="#ca2b3d" stroke="#fb3a4d" stroke-width="1"/>
<line x1="147.5" y1="20" x2="147.5" y2="598" stroke="#747b83" stroke-opacity="0.7" stroke-width="1" stroke-dasharray="4 6"/>
<line x1="629.5" y1="20" x2="629.5" y2="598" stroke="#747b83" stroke-opacity="0.7" stroke-width="1" stroke-dasharray="4 6"/>
<line x1="1104.5" y1="20" x2="1104.5" y2="598" stroke="#747b83" stroke-opacity="0.7" stroke-width="1" stroke-dasharray="4 6"/>
<path d="M1.3,534.5 L15.5,527.9 L22.7,519.9 L30.4,519.9 L37.6,523.3 L44.5,519.9 L52.3,518.8 L59.5,520.1 L66.7,522.5 L74.4,520.7 L81.3,515.3 L88.5,509.2 L95.5,499.3 L109.7,479.9 L132.5,441.2 L147.5,426.3 L154.6,422.9 L161.6,420.1 L168.7,416.4 L176.6,414.4 L183.7,413.0 L190.6,410.6 L199.3,402.5 L205.7,397.1 L220.3,387.4 L234.4,375.7 L249.7,360.8 L263.8,348.7 L271.4,340.7 L285.6,327.9 L293.2,321.0 L300.4,311.8 L315.4,295.9 L322.5,291.6 L329.5,286.9 L336.6,284.1 L344.6,278.9 L351.6,275.2 L358.5,271.9 L366.5,270.5 L373.5,266.9 L380.6,264.8 L388.4,261.3 L395.4,258.2 L402.4,253.7 L409.5,245.9 L417.4,236.8 L424.4,229.9 L431.4,228.0 L439.3,232.3 L446.2,232.1 L453.4,228.0 L461.3,224.6 L468.5,226.1 L475.4,228.0 L483.4,227.0 L490.5,224.2 L497.3,220.8 L504.5,218.0 L512.3,214.7 L519.5,209.5 L526.5,206.7 L534.4,203.8 L541.4,200.4 L548.5,196.7 L556.4,192.9 L563.4,188.8 L570.4,185.9 L577.5,184.1 L585.4,182.7 L592.4,181.8 L599.6,181.2 L607.3,181.8 L614.5,183.1 L621.5,186.9 L629.5,193.0 L636.5,203.8 L643.4,207.5 L651.4,211.3 L658.5,214.1 L665.5,213.2 L672.5,211.3 L680.4,210.4 L687.5,210.0 L694.5,205.6 L702.4,200.9 L709.6,196.8 L716.7,194.0 L724.5,192.5 L731.5,189.9 L738.6,189.8 L745.5,185.1 L753.4,179.5 L760.4,176.7 L767.6,172.9 L775.5,168.7 L782.5,169.1 L789.6,174.8 L797.5,174.8 L804.5,171.6 L811.5,168.7 L818.6,164.4 L826.5,159.7 L833.5,156.9 L840.6,154.6 L848.6,150.8 L855.5,149.8 L862.5,148.9 L870.4,146.1 L877.6,146.1 L884.5,143.6 L892.5,140.4 L899.6,137.6 L906.6,134.8 L913.6,129.1 L921.5,123.5 L928.6,118.8 L935.6,112.7 L943.5,110.9 L950.6,112.9 L957.6,115.0 L965.5,115.0 L972.5,111.2 L979.5,109.0 L986.4,105.6 L994.5,103.3 L1001.5,100.9 L1008.5,98.0 L1016.6,95.6 L1023.6,94.3 L1030.5,92.4 L1038.6,90.1 L1045.6,88.6 L1052.6,90.5 L1060.4,94.0 L1067.4,97.5 L1074.4,102.2 L1081.6,105.1 L1089.5,109.4 L1096.4,110.7 L1103.6,114.5 L1111.5,122.0 L1118.5,131.4 L1125.6,141.8 L1133.6,149.0 L1140.5,149.0 L1147.5,149.0 L1154.5,149.0 L1162.4,153.1 L1169.5,157.4 L1176.5,164.2 L1184.4,169.5 L1191.4,175.1 L1198.5,176.6 L1206.4,178.0 L1213.4,175.7 L1220.4,173.6 L1227.4,174.8 L1235.5,178.0 L1242.4,179.8 L1249.6,174.8 L1257.5,167.0 L1264.5,161.0 L1271.4,154.0 L1279.4,145.6 L1299.9,125.0 L1308.4,115.7 L1315.3,111.8 L1322.7,107.9" fill="none" stroke="#6d78b2" stroke-width="1.05" stroke-linejoin="round"/>
<rect x="0" y="55" width="32" height="1" fill="#e6aa20" fill-opacity="0.49"/>
<rect x="0" y="56" width="32" height="1" fill="#e6aa20" fill-opacity="0.66"/>
<rect x="32" y="55" width="32" height="1" fill="#e6aa20" fill-opacity="0.47"/>
<rect x="32" y="56" width="32" height="1" fill="#e6aa20" fill-opacity="0.68"/>
<rect x="64" y="55" width="32" height="1" fill="#e6aa20" fill-opacity="0.46"/>
<rect x="64" y="56" width="32" height="1" fill="#e6aa20" fill-opacity="0.69"/>
<rect x="96" y="55" width="32" height="1" fill="#e6aa20" fill-opacity="0.44"/>
<rect x="96" y="56" width="32" height="1" fill="#e6aa20" fill-opacity="0.71"/>
<rect x="128" y="55" width="32" height="1" fill="#e6aa20" fill-opacity="0.42"/>
<rect x="128" y="56" width="32" height="1" fill="#e6aa20" fill-opacity="0.73"/>
<rect x="160" y="55" width="32" height="1" fill="#e6aa20" fill-opacity="0.40"/>
<rect x="160" y="56" width="32" height="1" fill="#e6aa20" fill-opacity="0.75"/>
<rect x="192" y="55" width="32" height="1" fill="#e6aa20" fill-opacity="0.38"/>
<rect x="192" y="56" width="32" height="1" fill="#e6aa20" fill-opacity="0.77"/>
<rect x="224" y="55" width="32" height="1" fill="#e6aa20" fill-opacity="0.36"/>
<rect x="224" y="56" width="32" height="1" fill="#e6aa20" fill-opacity="0.79"/>
<rect x="256" y="55" width="32" height="1" fill="#e6aa20" fill-opacity="0.34"/>
<rect x="256" y="56" width="32" height="1" fill="#e6aa20" fill-opacity="0.81"/>
<rect x="288" y="55" width="32" height="1" fill="#e6aa20" fill-opacity="0.33"/>
<rect x="288" y="56" width="32" height="1" fill="#e6aa20" fill-opacity="0.82"/>
<rect x="320" y="55" width="32" height="1" fill="#e6aa20" fill-opacity="0.31"/>
<rect x="320" y="56" width="32" height="1" fill="#e6aa20" fill-opacity="0.84"/>
<rect x="352" y="55" width="32" height="1" fill="#e6aa20" fill-opacity="0.29"/>
<rect x="352" y="56" width="32" height="1" fill="#e6aa20" fill-opacity="0.86"/>
<rect x="384" y="55" width="32" height="1" fill="#e6aa20" fill-opacity="0.27"/>
<rect x="384" y="56" width="32" height="1" fill="#e6aa20" fill-opacity="0.88"/>
<rect x="416" y="55" width="32" height="1" fill="#e6aa20" fill-opacity="0.25"/>
<rect x="416" y="56" width="32" height="1" fill="#e6aa20" fill-opacity="0.90"/>
<rect x="448" y="55" width="32" height="1" fill="#e6aa20" fill-opacity="0.23"/>
<rect x="448" y="56" width="32" height="1" fill="#e6aa20" fill-opacity="0.92"/>
<rect x="480" y="55" width="32" height="1" fill="#e6aa20" fill-opacity="0.21"/>
<rect x="480" y="56" width="32" height="1" fill="#e6aa20" fill-opacity="0.92"/>
<rect x="512" y="55" width="32" height="1" fill="#e6aa20" fill-opacity="0.20"/>
<rect x="512" y="56" width="32" height="1" fill="#e6aa20" fill-opacity="0.92"/>
<rect x="512" y="57" width="32" height="1" fill="#e6aa20" fill-opacity="0.03"/>
<rect x="544" y="55" width="32" height="1" fill="#e6aa20" fill-opacity="0.18"/>
<rect x="544" y="56" width="32" height="1" fill="#e6aa20" fill-opacity="0.92"/>
<rect x="544" y="57" width="32" height="1" fill="#e6aa20" fill-opacity="0.05"/>
<rect x="576" y="55" width="32" height="1" fill="#e6aa20" fill-opacity="0.16"/>
<rect x="576" y="56" width="32" height="1" fill="#e6aa20" fill-opacity="0.92"/>
<rect x="576" y="57" width="32" height="1" fill="#e6aa20" fill-opacity="0.07"/>
<rect x="608" y="55" width="32" height="1" fill="#e6aa20" fill-opacity="0.14"/>
<rect x="608" y="56" width="32" height="1" fill="#e6aa20" fill-opacity="0.92"/>
<rect x="608" y="57" width="32" height="1" fill="#e6aa20" fill-opacity="0.09"/>
<rect x="640" y="55" width="32" height="1" fill="#e6aa20" fill-opacity="0.12"/>
<rect x="640" y="56" width="32" height="1" fill="#e6aa20" fill-opacity="0.92"/>
<rect x="640" y="57" width="32" height="1" fill="#e6aa20" fill-opacity="0.11"/>
<rect x="672" y="55" width="32" height="1" fill="#e6aa20" fill-opacity="0.10"/>
<rect x="672" y="56" width="32" height="1" fill="#e6aa20" fill-opacity="0.92"/>
<rect x="672" y="57" width="32" height="1" fill="#e6aa20" fill-opacity="0.13"/>
<rect x="704" y="55" width="32" height="1" fill="#e6aa20" fill-opacity="0.08"/>
<rect x="704" y="56" width="32" height="1" fill="#e6aa20" fill-opacity="0.92"/>
<rect x="704" y="57" width="32" height="1" fill="#e6aa20" fill-opacity="0.15"/>
<rect x="736" y="55" width="32" height="1" fill="#e6aa20" fill-opacity="0.07"/>
<rect x="736" y="56" width="32" height="1" fill="#e6aa20" fill-opacity="0.92"/>
<rect x="736" y="57" width="32" height="1" fill="#e6aa20" fill-opacity="0.16"/>
<rect x="768" y="55" width="32" height="1" fill="#e6aa20" fill-opacity="0.05"/>
<rect x="768" y="56" width="32" height="1" fill="#e6aa20" fill-opacity="0.92"/>
<rect x="768" y="57" width="32" height="1" fill="#e6aa20" fill-opacity="0.18"/>
<rect x="800" y="55" width="32" height="1" fill="#e6aa20" fill-opacity="0.03"/>
<rect x="800" y="56" width="32" height="1" fill="#e6aa20" fill-opacity="0.92"/>
<rect x="800" y="57" width="32" height="1" fill="#e6aa20" fill-opacity="0.20"/>
<rect x="832" y="56" width="32" height="1" fill="#e6aa20" fill-opacity="0.92"/>
<rect x="832" y="57" width="32" height="1" fill="#e6aa20" fill-opacity="0.22"/>
<rect x="864" y="56" width="32" height="1" fill="#e6aa20" fill-opacity="0.91"/>
<rect x="864" y="57" width="32" height="1" fill="#e6aa20" fill-opacity="0.24"/>
<rect x="896" y="56" width="32" height="1" fill="#e6aa20" fill-opacity="0.89"/>
<rect x="896" y="57" width="32" height="1" fill="#e6aa20" fill-opacity="0.26"/>
<rect x="928" y="56" width="32" height="1" fill="#e6aa20" fill-opacity="0.87"/>
<rect x="928" y="57" width="32" height="1" fill="#e6aa20" fill-opacity="0.28"/>
<rect x="960" y="56" width="32" height="1" fill="#e6aa20" fill-opacity="0.86"/>
<rect x="960" y="57" width="32" height="1" fill="#e6aa20" fill-opacity="0.29"/>
<rect x="992" y="56" width="32" height="1" fill="#e6aa20" fill-opacity="0.84"/>
<rect x="992" y="57" width="32" height="1" fill="#e6aa20" fill-opacity="0.31"/>
<rect x="1024" y="56" width="32" height="1" fill="#e6aa20" fill-opacity="0.82"/>
<rect x="1024" y="57" width="32" height="1" fill="#e6aa20" fill-opacity="0.33"/>
<rect x="1056" y="56" width="32" height="1" fill="#e6aa20" fill-opacity="0.80"/>
<rect x="1056" y="57" width="32" height="1" fill="#e6aa20" fill-opacity="0.35"/>
<rect x="1088" y="56" width="32" height="1" fill="#e6aa20" fill-opacity="0.78"/>
<rect x="1088" y="57" width="32" height="1" fill="#e6aa20" fill-opacity="0.37"/>
<rect x="1120" y="56" width="32" height="1" fill="#e6aa20" fill-opacity="0.76"/>
<rect x="1120" y="57" width="32" height="1" fill="#e6aa20" fill-opacity="0.39"/>
<rect x="1152" y="56" width="32" height="1" fill="#e6aa20" fill-opacity="0.74"/>
<rect x="1152" y="57" width="32" height="1" fill="#e6aa20" fill-opacity="0.41"/>
<rect x="1184" y="56" width="32" height="1" fill="#e6aa20" fill-opacity="0.73"/>
<rect x="1184" y="57" width="32" height="1" fill="#e6aa20" fill-opacity="0.42"/>
<rect x="1216" y="56" width="32" height="1" fill="#e6aa20" fill-opacity="0.71"/>
<rect x="1216" y="57" width="32" height="1" fill="#e6aa20" fill-opacity="0.44"/>
<rect x="1248" y="56" width="32" height="1" fill="#e6aa20" fill-opacity="0.69"/>
<rect x="1248" y="57" width="32" height="1" fill="#e6aa20" fill-opacity="0.46"/>
<rect x="1280" y="56" width="32" height="1" fill="#e6aa20" fill-opacity="0.67"/>
<rect x="1280" y="57" width="32" height="1" fill="#e6aa20" fill-opacity="0.48"/>
<rect x="1312" y="56" width="32" height="1" fill="#e6aa20" fill-opacity="0.65"/>
<rect x="1312" y="57" width="32" height="1" fill="#e6aa20" fill-opacity="0.50"/>
<rect x="1344" y="56" width="32" height="1" fill="#e6aa20" fill-opacity="0.63"/>
<rect x="1344" y="57" width="32" height="1" fill="#e6aa20" fill-opacity="0.52"/>
<rect x="1376" y="56" width="32" height="1" fill="#e6aa20" fill-opacity="0.61"/>
<rect x="1376" y="57" width="32" height="1" fill="#e6aa20" fill-opacity="0.54"/>
<rect x="1408" y="56" width="26" height="1" fill="#e6aa20" fill-opacity="0.60"/>
<rect x="1408" y="57" width="26" height="1" fill="#e6aa20" fill-opacity="0.55"/>
<rect x="0" y="70" width="1470" height="1" fill="#43525d"/>
<line x1="1334.3" y1="67.5" x2="1413.2" y2="174.4" stroke="#fff" stroke-width="3" stroke-linecap="round"/>
<polygon points="1420.5,184.3 1408.1,175.6 1415.9,169.9" fill="#fff"/>
</svg>
<div id="topa"></div><div id="topb"></div><div id="redge"></div>
<div class="pl" style="top:50px">35539</div>
<div class="pl" style="top:87px">35196</div>
<div class="pl" style="top:124px">34854</div>
<div class="pl" style="top:161px">34512</div>
<div class="pl" style="top:198px">34170</div>
<div class="pl" style="top:235px">33827</div>
<div class="pl" style="top:272px">33485</div>
<div class="pl" style="top:309px">33143</div>
<div class="pl" style="top:346px">32801</div>
<div class="pl" style="top:383px">32459</div>
<div class="pl" style="top:420px">32116</div>
<div class="pl" style="top:457px">31774</div>
<div class="pl" style="top:494px">31432</div>
<div class="pl" style="top:531px">31090</div>
<div class="pl" style="top:568px">30747</div>
<div class="pl" style="top:599.5px">30405</div>

<div class="dl" style="left:1px">19.02.2021</div>
<div class="dl" style="left:132px">16.03.2021</div>
<div class="dl" style="left:263px">08.04.2021</div>
<div class="dl" style="left:395px">04.05.2021</div>
<div class="dl" style="left:526px">28.05.2021</div>
<div class="dl" style="left:658px">23.06.2021</div>
<div class="dl" style="left:789px">19.07.2021</div>
<div class="dl" style="left:921px">12.08.2021</div>
<div class="dl" style="left:1052px">07.09.2021</div>
<div class="dl" style="left:1184px">01.10.2021</div>
<div class="dl" style="left:1315px">27.10.2021</div>
<div class="dl" style="left:1447px">14.11.2021</div>

<div class="rl" style="left:147.7px">R: 18.3.2021</div>
<div class="rl" style="left:629.7px">R: 17.6.2021</div>
<div class="rl" style="left:1104.5px">R: 16.9.2021</div>
<div id="ylab">35545</div>
<div id="plab"><svg width="60" height="17" style="position:absolute;left:0;top:0"><polygon points="0,8.5 8,0 60,0 60,17 8,17" fill="#43525d"/></svg><span>35420</span></div>
<div id="timer"><b>15</b>h <b>44</b>m</div>
<div id="tb"></div><div id="tb1"></div>
<div id="sym">US30</div>
<div id="ind">IND</div>
<div class="tri" style="left:73px;top:21px"></div>
<svg style="position:absolute;left:88px;top:17px" width="15" height="15" viewBox="0 0 15 15"><circle cx="7.2" cy="7.3" r="5.6" fill="none" stroke="#b9c9d4" stroke-width="1"/><rect x="6.7" y="6.3" width="1" height="4" fill="#dfe6ea"/><rect x="6.7" y="4.2" width="1" height="1.1" fill="#dfe6ea"/></svg>
<div id="d1"><span>D1</span></div>
<div class="tri" style="left:137px;top:23px"></div>
<div class="box" style="left:8px;width:36px;background:#e53a3a;">35420</div>
<div class="box" style="left:44px;width:15px;background:#252f38;color:#cfd3d7;border-right:1px solid #36414a;box-sizing:border-box;font-weight:normal;font-size:13px;">&#8211;</div>
<div class="box" style="left:59px;width:41px;background:#252f38;color:#e3e5e7;border-right:1px solid #36414a;box-sizing:border-box;">0.50</div>
<div class="box" style="left:100px;width:15px;background:#252f38;color:#cfd3d7;font-weight:normal;font-size:15px;">+</div>
<div class="box" style="left:115px;width:36px;background:#09ad72;">35427</div>
<div class="box" style="left:159.5px;width:28px;top:38px;color:#dfe2e5;font-size:10px;letter-spacing:0;">SL/TP</div>
<svg style="position:absolute;left:198px;top:36px" width="120" height="20" viewBox="198 36 120 20" fill="none" stroke="#8fa3af" stroke-width="1">
<path d="M202.8,48 L206.2,44.1 L210.1,46 L214.2,42.4" stroke-width="1.2"/>
<circle cx="202.8" cy="48" r="0.8" fill="#8fa3af"/><circle cx="214.2" cy="42.4" r="0.8" fill="#8fa3af"/>
<path d="M228.4,38.3 V41.5 M228.4,47.5 V51 M232.5,39.7 V43.6 M232.5,48.9 V51.9 M236.8,38.7 V41.7 M236.8,45.5 V49" stroke-width="1.1"/>
<rect x="227.3" y="41.6" width="2.2" height="5.8" stroke-width="0.9"/><rect x="231.4" y="43.7" width="2.2" height="5.1" stroke-width="0.9"/><rect x="235.7" y="41.8" width="2.2" height="3.6" stroke-width="0.9"/>
<polygon points="242.2,51.2 242.2,54 239.4,54" fill="#cfd6db" stroke="none"/>
<circle cx="254.7" cy="43.9" r="4.4"/><path d="M258,47.2 L262,51 M252.8,43.7 H256.6"/>
<circle cx="280" cy="43.9" r="4.4"/><path d="M283.3,47.2 L287,50.8"/><path d="M278,43.6 H282 M280,41.6 V45.6" stroke="#a5b7c2" stroke-width="0.9"/>
<path d="M300.5,45.4 H310.5 M305.5,40 V50.6"/>
<path d="M299,45.4 L301.6,43.3 V47.5 Z M312.1,45.4 L309.5,43.3 V47.5 Z M305.5,38.8 L303.4,41.4 H307.6 Z M305.5,51.9 L303.4,49.3 H307.6 Z" fill="#8fa3af" stroke="none"/>
<polygon points="315.2,51.2 315.2,54 312.4,54" fill="#cfd6db" stroke="none"/>
</svg>
<svg style="position:absolute;left:0;top:599px" width="26" height="12" viewBox="0 0 26 12"><rect x="0" y="1.5" width="11" height="1.6" fill="#9aa0a6"/><rect x="0" y="4.6" width="11" height="1.6" fill="#9aa0a6"/><rect x="0" y="7.7" width="11" height="1.6" fill="#9aa0a6"/><rect x="6" y="1.5" width="5" height="3" fill="#9aa0a6"/><path d="M15,2.2 L22,9 M22,2.2 L15,9" stroke="#8b9197" stroke-width="2.4"/></svg>
<div id="ema">EMA [21, 0] 35063</div>
</div></body></html>
